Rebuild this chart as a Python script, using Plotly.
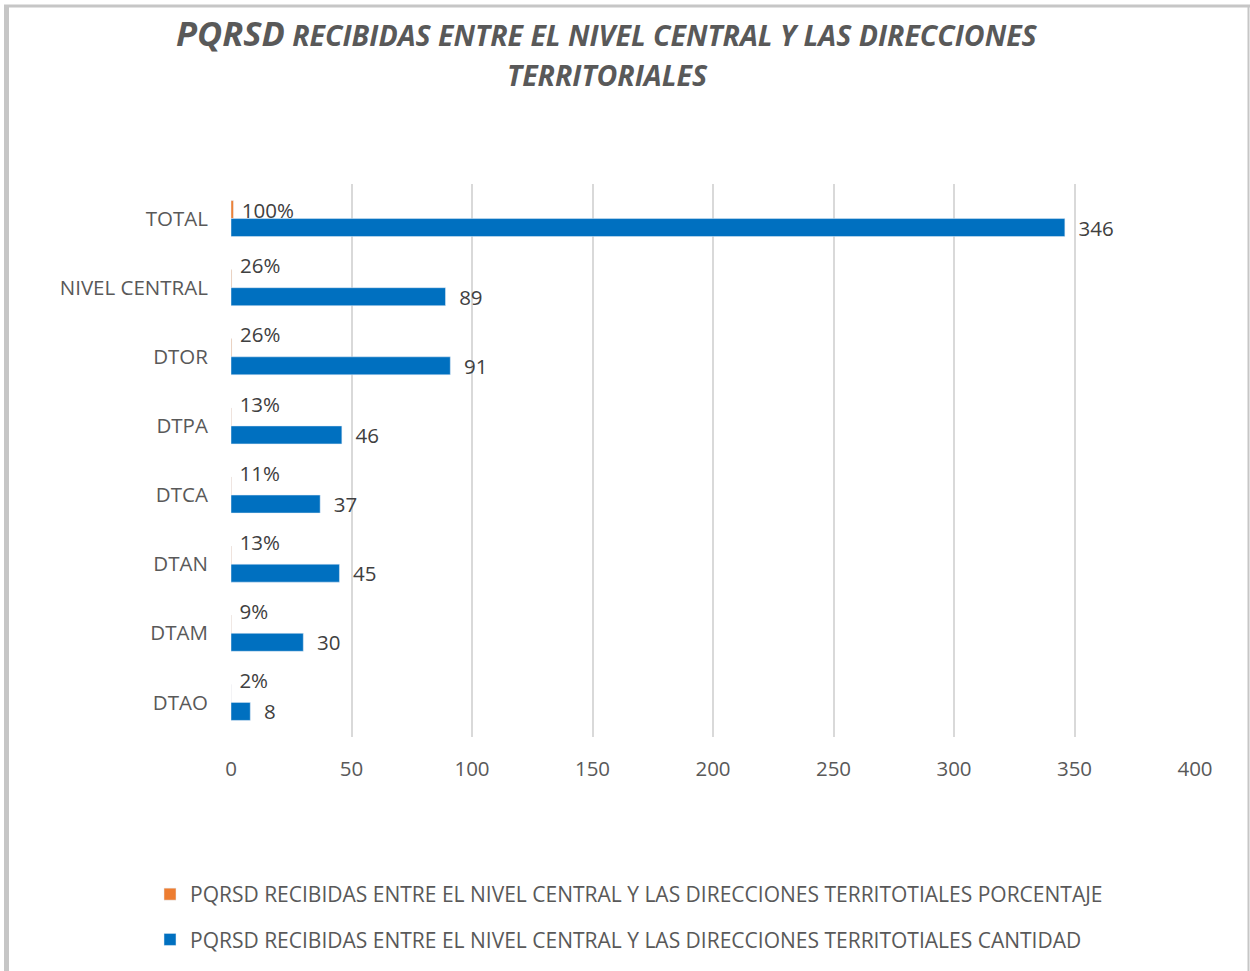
import plotly.graph_objects as go

categories = ["TOTAL", "NIVEL CENTRAL", "DTOR", "DTPA", "DTCA", "DTAN", "DTAM", "DTAO"]
cantidad = [346, 89, 91, 46, 37, 45, 30, 8]
porcentaje = [1.00, 0.26, 0.26, 0.13, 0.11, 0.13, 0.09, 0.02]

name_pct = "PQRSD RECIBIDAS ENTRE EL NIVEL CENTRAL Y LAS DIRECCIONES TERRITOTIALES PORCENTAJE"
name_cnt = "PQRSD RECIBIDAS ENTRE EL NIVEL CENTRAL Y LAS DIRECCIONES TERRITOTIALES CANTIDAD"

FONT = "Open Sans"
GRAY = "#595959"
LABEL = "#404040"

# percentage labels sit above the tiny orange bars (second empty line lifts them)
pct_text = [f" {round(v*100)}%" + ("" if i == 0 else "<br> ") for i, v in enumerate(porcentaje)]

fig = go.Figure()
fig.add_trace(go.Bar(
    y=categories, x=porcentaje, orientation="h", name=name_pct,
    marker=dict(color="#ED7D31"), legendgroup="a",
    text=pct_text, texttemplate="%{text}",
    textposition="outside", constraintext="none", cliponaxis=False,
    textfont=dict(family=FONT, size=20.5, color=LABEL),
))
fig.add_trace(go.Bar(
    y=categories, x=cantidad, orientation="h", name=name_cnt,
    marker=dict(color="#0070C0"), legendgroup="b",
    text=[f"  {v}" for v in cantidad], texttemplate="%{text}",
    textposition="outside", constraintext="none", cliponaxis=False,
    textfont=dict(family=FONT, size=20.5, color=LABEL),
))

L, R, T, B = 231, 55, 184, 234
W, H = 1250, 971
pw, ph = W - L - R, H - T - B

def px(x):
    return (x - L) / pw

def py(y):
    return (H - B - y) / ph

BORDER = "#c6c6c6"

fig.update_layout(
    width=W, height=H,
    margin=dict(l=L, r=R, t=T, b=B, autoexpand=False),
    paper_bgcolor="white", plot_bgcolor="white",
    barmode="group", bargap=0.48, bargroupgap=0,
    font=dict(family=FONT, color=GRAY),
    showlegend=True,
    legend=dict(
        x=px(150), y=py(874), xanchor="left", yanchor="top",
        orientation="v", traceorder="grouped", tracegroupgap=15,
        font=dict(family=FONT, size=21, color=GRAY),
        bgcolor="rgba(0,0,0,0)",
    ),
    xaxis=dict(
        range=[0, 400], dtick=50, showgrid=True, gridcolor="#d9d9d9", gridwidth=2,
        zeroline=False, showline=False,
        ticks="outside", ticklen=13, tickcolor="rgba(0,0,0,0)",
        tickfont=dict(family=FONT, size=20.5, color=GRAY),
    ),
    yaxis=dict(
        autorange="reversed", showgrid=False, zeroline=False, showline=False,
        ticks="outside", ticklen=18, tickcolor="rgba(0,0,0,0)",
        tickfont=dict(family=FONT, size=20.5, color=GRAY),
    ),
    shapes=[
        dict(type="line", xref="paper", yref="paper",
             x0=px(4), x1=px(1250), y0=py(6), y1=py(6),
             line=dict(color=BORDER, width=3), layer="below"),
        dict(type="line", xref="paper", yref="paper",
             x0=px(6.5), x1=px(6.5), y0=py(5), y1=py(971),
             line=dict(color=BORDER, width=5), layer="below"),
        dict(type="line", xref="paper", yref="paper",
             x0=px(1248.5), x1=px(1248.5), y0=py(5), y1=py(971),
             line=dict(color=BORDER, width=2), layer="below"),
    ],
    annotations=[
        dict(
            xref="paper", yref="paper", x=px(607), y=py(33),
            xanchor="center", yanchor="middle", showarrow=False,
            text="<b><i><span style='font-size:34.5px'>PQRSD</span> RECIBIDAS ENTRE EL NIVEL CENTRAL Y LAS DIRECCIONES</i></b>",
            font=dict(family=FONT, size=28.5, color=GRAY),
        ),
        dict(
            xref="paper", yref="paper", x=px(607), y=py(75),
            xanchor="center", yanchor="middle", showarrow=False,
            text="<b><i>TERRITORIALES</i></b>",
            font=dict(family=FONT, size=28.5, color=GRAY),
        ),
    ],
)

fig.write_html("out.html", config={"displayModeBar": False},
               post_script="document.body.style.margin='0';")
